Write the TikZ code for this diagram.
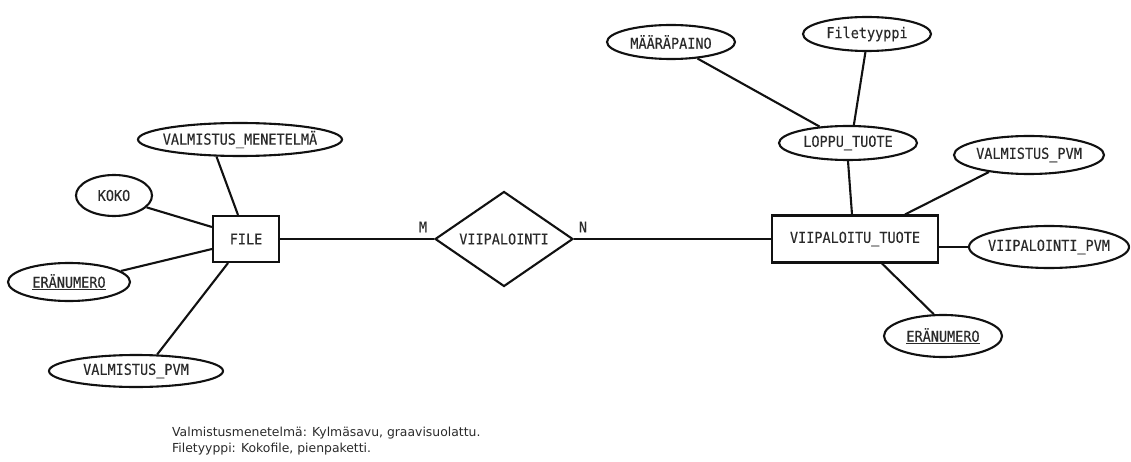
\documentclass[tikz,border=0pt]{standalone}
\usepackage{fontspec}
\setmainfont{DejaVu Sans}
\newfontfamily\ermono[FakeStretch=0.9,FakeBold=0.2]{DejaVu Sans Mono}
\usetikzlibrary{shapes.geometric}
\definecolor{ink}{HTML}{111111}
\definecolor{txt}{HTML}{2A2A2A}
% zero-width label so the outline size is set only by minimum width/height
\newcommand{\ertxt}[1]{\makebox[0pt]{#1}}

\tikzset{
  er/.style={line width=2.1pt, draw=ink},
  monofont/.style={font=\ermono\fontsize{15}{15}\selectfont, text=txt},
  entity/.style={er, monofont, rectangle, inner sep=0pt, fill=white},
  attr/.style={er, monofont, ellipse, inner sep=0pt, fill=white},
  rel/.style={er, monofont, diamond, inner sep=0pt, fill=white},
  card/.style={monofont},
  link/.style={er},
  note/.style={font=\fontsize{12.4}{14}\selectfont, text=txt, anchor=base west, inner sep=0pt}
}

\begin{document}
\begin{tikzpicture}[x=1pt, y=-1pt]
  \path[use as bounding box] (0,0) rectangle (1131,462);

  % left entity and its attributes
  \node[entity, minimum width=66pt, minimum height=46pt] (file) at (246,239) {FILE};
  \node[attr, minimum width=204pt, minimum height=33pt] (vmen) at (240,139.5) {\ertxt{VALMISTUS\_MENETELMÄ}};
  \node[attr, minimum width=76pt, minimum height=41pt] (koko) at (114,195.5) {\ertxt{KOKO}};
  \node[attr, minimum width=122pt, minimum height=38pt] (eraL) at (69,282) {\ertxt{\underline{ERÄNUMERO}}};
  \node[attr, minimum width=174pt, minimum height=32pt] (vpvmL) at (136,371) {\ertxt{VALMISTUS\_PVM}};

  % relationship
  \node[rel, minimum width=138pt, minimum height=95pt] (viip) at (504,239) {\ertxt{VIIPALOINTI}};
  \node[card] (m) at (423,227) {M};
  \node[card] (n) at (583,227) {N};

  % right entity and its attributes
  \node[entity, minimum width=166pt, minimum height=47pt] (vt) at (855,239) {VIIPALOITU\_TUOTE};
  \node[attr, minimum width=138pt, minimum height=34pt] (loppu) at (848,143) {\ertxt{LOPPU\_TUOTE}};
  \node[attr, minimum width=128pt, minimum height=34pt] (maara) at (671,42) {\ertxt{MÄÄRÄPAINO}};
  \node[attr, minimum width=128pt, minimum height=34pt] (filet) at (867,34) {\ertxt{Filetyyppi}};
  \node[attr, minimum width=150pt, minimum height=38pt] (vpvmR) at (1029,155) {\ertxt{VALMISTUS\_PVM}};
  \node[attr, minimum width=160pt, minimum height=42pt] (vipvm) at (1049,247) {\ertxt{VIIPALOINTI\_PVM}};
  \node[attr, minimum width=118pt, minimum height=42pt] (eraR) at (943,336) {\ertxt{\underline{ERÄNUMERO}}};

  % connectors
  \draw[link] (vmen.216) -- ([xshift=-8pt]file.north);
  \draw[link] (koko.340) -- ([yshift=12pt]file.west);
  \draw[link] (eraL.12) -- ([yshift=-10pt]file.west);
  \draw[link] (vpvmL.38) -- ([xshift=-18pt]file.south);
  \draw[link] (file.east) -- (viip.west);
  \draw[link] (viip.east) -- (vt.west);
  \draw[link] (maara.328) -- (loppu.150);
  \draw[link] (filet.265) -- (loppu.72);
  \draw[link] (loppu.south) -- ([xshift=-3pt]vt.north);
  \draw[link] (vpvmR.203) -- ([xshift=50pt]vt.north);
  \draw[link] (vt.east |- vipvm.west) -- (vipvm.west);
  \draw[link] ([xshift=27pt]vt.south) -- (eraR.113);

  % notes under the diagram
  \node[note] (note1) at (172,436) {Valmistusmenetelmä: Kylmäsavu, graavisuolattu.};
  \node[note] (note2) at (172,452) {Filetyyppi: Kokofile, pienpaketti.};
\end{tikzpicture}
\end{document}
